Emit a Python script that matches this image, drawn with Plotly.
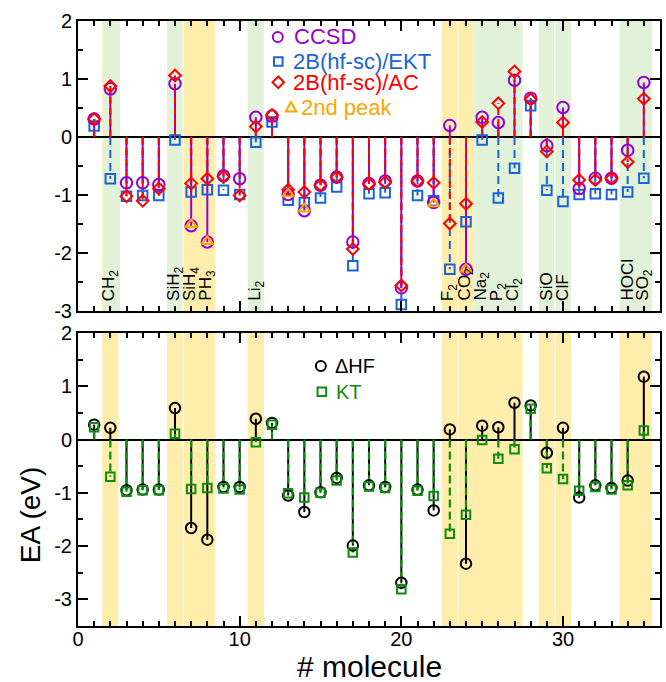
import plotly.graph_objects as go

# ---------------- data ----------------
molecules = list(range(1, 36))
ccsd = [0.31, 0.83, -0.79, -0.79, -0.82, 0.92, -1.53, -1.81, -0.67, -0.72,
        0.34, 0.36, -0.99, -1.27, -0.83, -0.69, -1.81, -0.80, -0.76, -2.60,
        -0.76, -1.13, 0.20, -2.28, 0.34, 0.25, 0.98, 0.67, -0.15, 0.51,
        -0.89, -0.71, -0.71, -0.23, 0.94]
ekt = [0.19, -0.72, -1.02, -1.01, -1.01, -0.05, -0.95, -0.91, -0.92, -0.99,
       -0.09, 0.26, -1.09, -1.13, -1.05, -0.86, -2.22, -0.98, -0.96, -2.89,
       -1.01, -1.10, -2.28, -1.46, -0.05, -1.05, -0.54, 0.54, -0.92, -1.11,
       -0.99, -0.98, -0.99, -0.95, -0.71]
ac = [0.31, 0.88, -1.02, -1.10, -0.89, 1.06, -0.80, -0.72, -0.68, -1.01,
      0.18, 0.38, -0.91, -0.95, -0.83, -0.69, -1.93, -0.81, -0.78, -2.56,
      -0.76, -0.79, -1.49, -1.15, 0.26, 0.58, 1.13, 0.65, -0.25, 0.25,
      -0.74, -0.74, -0.71, -0.43, 0.66]
peak2_mol = [7, 8, 13, 14, 22, 24]
peak2 = [-1.51, -1.80, -0.98, -1.24, -1.15, -2.28]
dhf = [0.28, 0.22, -0.95, -0.94, -0.94, 0.59, -1.66, -1.88, -0.89, -0.89,
       0.39, 0.31, -1.05, -1.36, -0.99, -0.72, -1.99, -0.86, -0.89, -2.69,
       -0.94, -1.33, 0.19, -2.33, 0.26, 0.23, 0.69, 0.64, -0.25, 0.22,
       -1.09, -0.86, -0.91, -0.77, 1.18]
kt = [0.23, -0.70, -0.98, -0.95, -0.95, 0.11, -0.93, -0.91, -0.92, -0.94,
      -0.05, 0.28, -1.01, -1.09, -1.00, -0.77, -2.12, -0.88, -0.91, -2.81,
      -0.96, -1.06, -1.77, -1.41, -0.01, -0.36, -0.18, 0.58, -0.54, -0.74,
      -0.96, -0.89, -0.94, -0.86, 0.17]
label_mol = [2, 6, 7, 8, 11, 23, 24, 25, 26, 27, 29, 30, 34, 35]
label_text = ["CH<sub>2</sub>", "SiH<sub>2</sub>", "SiH<sub>4</sub>", "PH<sub>3</sub>",
              "Li<sub>2</sub>", "F<sub>2</sub>", "CO<sub>2</sub>", "Na<sub>2</sub>",
              "P<sub>2</sub>", "Cl<sub>2</sub>", "SiO", "ClF", "HOCl", "SO<sub>2</sub>"]
y_ticks = [-3, -2, -1, 0, 1, 2]
y_ticktext = ["-3", "-2", "-1", "0", "1", "2"]
x_ticks = [0, 10, 20, 30]

# ---------------- style ----------------
VIOLET = "#9400d3"
BLUE = "#1a64d8"
RED = "#ff0000"
ORANGE = "#ffa500"
GREEN = "#0f8b0f"
BAND_Y = "#ffedab"
BAND_G = "#e2f2d8"
FONT = "Liberation Sans, Arial, sans-serif"

W, H = 666, 682
ML, MR, MT, MB = 78, 4, 21, 56
PW, PH = W - ML - MR, H - MT - MB


def px(xp):
    return (xp - ML) / PW


def py(yp):
    return (H - MB - yp) / PH


def stems(xs, ys):
    sx, sy = [], []
    for a, b in zip(xs, ys):
        sx += [a, a, None]
        sy += [0, b, None]
    return sx, sy


fig = go.Figure()

# ---- top panel stems ----
for vals, col, dash, lw in [(ekt, BLUE, "8px,5px", 2),
                            (ccsd, VIOLET, "solid", 2),
                            (ac, RED, "7px,4px", 2)]:
    sx, sy = stems(molecules, vals)
    fig.add_trace(go.Scatter(x=sx, y=sy, mode="lines", xaxis="x", yaxis="y",
                             line=dict(color=col, width=lw, dash=dash),
                             hoverinfo="skip", showlegend=False))

fig.add_trace(go.Scatter(x=molecules, y=ekt, mode="markers", xaxis="x", yaxis="y",
                         marker=dict(symbol="square-open", size=9.5, color=BLUE,
                                     line=dict(width=2, color=BLUE)),
                         name="2B(hf-sc)/EKT", showlegend=False))
fig.add_trace(go.Scatter(x=molecules, y=ccsd, mode="markers", xaxis="x", yaxis="y",
                         marker=dict(symbol="circle-open", size=11.5, color=VIOLET,
                                     line=dict(width=2, color=VIOLET)),
                         name="CCSD", showlegend=False))
fig.add_trace(go.Scatter(x=molecules, y=ac, mode="markers", xaxis="x", yaxis="y",
                         marker=dict(symbol="diamond-open", size=9, color=RED,
                                     line=dict(width=2, color=RED)),
                         name="2B(hf-sc)/AC", showlegend=False))
fig.add_trace(go.Scatter(x=peak2_mol, y=peak2, mode="markers", xaxis="x", yaxis="y",
                         marker=dict(symbol="triangle-up-open", size=10, color=ORANGE,
                                     line=dict(width=2, color=ORANGE)),
                         name="2nd peak", showlegend=False))

# ---- bottom panel ----
sx, sy = stems(molecules, dhf)
fig.add_trace(go.Scatter(x=sx, y=sy, mode="lines", xaxis="x2", yaxis="y2",
                         line=dict(color="black", width=2),
                         hoverinfo="skip", showlegend=False))
sx, sy = stems(molecules, kt)
fig.add_trace(go.Scatter(x=sx, y=sy, mode="lines", xaxis="x2", yaxis="y2",
                         line=dict(color=GREEN, width=2.2, dash="8px,4px"),
                         hoverinfo="skip", showlegend=False))
fig.add_trace(go.Scatter(x=molecules, y=dhf, mode="markers", xaxis="x2", yaxis="y2",
                         marker=dict(symbol="circle-open", size=10.5, color="black",
                                     line=dict(width=2, color="black")),
                         name="ΔHF", showlegend=False))
fig.add_trace(go.Scatter(x=molecules, y=kt, mode="markers", xaxis="x2", yaxis="y2",
                         marker=dict(symbol="square-open", size=8.5, color=GREEN,
                                     line=dict(width=2, color=GREEN)),
                         name="KT", showlegend=False))

# ---- shaded bands ----
shapes = []
top_bands = [(1.5, 2.5, BAND_Y), (1.6, 2.6, BAND_G), (5.5, 6.47, BAND_G),
             (6.53, 8.5, BAND_Y), (10.5, 11.5, BAND_G), (22.5, 23.47, BAND_Y),
             (23.53, 24.5, BAND_Y), (24.5, 27.5, BAND_G), (28.5, 29.47, BAND_G),
             (29.53, 30.5, BAND_G), (33.5, 35.5, BAND_G)]
bot_bands = [(1.5, 2.5, BAND_Y), (5.5, 6.47, BAND_Y), (6.53, 8.5, BAND_Y),
             (10.5, 11.5, BAND_Y), (22.5, 23.47, BAND_Y), (23.53, 27.5, BAND_Y),
             (28.5, 29.47, BAND_Y), (29.53, 30.5, BAND_Y), (33.5, 35.5, BAND_Y)]
for x0, x1, c in top_bands:
    shapes.append(dict(type="rect", xref="x", yref="y domain", x0=x0, x1=x1, y0=0, y1=1,
                       fillcolor=c, line=dict(width=0), layer="below"))
for x0, x1, c in bot_bands:
    shapes.append(dict(type="rect", xref="x2", yref="y2 domain", x0=x0, x1=x1, y0=0, y1=1,
                       fillcolor=c, line=dict(width=0), layer="below"))

# ---- hand-made legends (shapes + coloured text) ----
def circ(cx, cy, r, col):
    return dict(type="circle", xref="paper", yref="paper",
                x0=px(cx - r), x1=px(cx + r), y0=py(cy + r), y1=py(cy - r),
                line=dict(color=col, width=2))


def rect(cx, cy, h, col):
    return dict(type="rect", xref="paper", yref="paper",
                x0=px(cx - h), x1=px(cx + h), y0=py(cy + h), y1=py(cy - h),
                line=dict(color=col, width=2))


def poly(pts, col):
    p = "M " + " L ".join(f"{px(a):.5f},{py(b):.5f}" for a, b in pts) + " Z"
    return dict(type="path", xref="paper", yref="paper", path=p,
                line=dict(color=col, width=2))


shapes.append(circ(278.5, 37, 5, VIOLET))
shapes.append(rect(279, 61.5, 4.3, BLUE))
shapes.append(poly([(279, 76.5), (284.8, 82.3), (279, 88.1), (273.2, 82.3)], RED))
shapes.append(poly([(286.5, 111.5), (297, 111.5), (291.7, 102)], ORANGE))
shapes.append(circ(321.7, 366, 5, "black"))
shapes.append(rect(322.7, 391.7, 4.3, GREEN))

annotations = []
for txt, xl, yc, col, fs in [("CCSD", 293, 37, VIOLET, 22),
                             ("2B(hf-sc)/EKT", 292, 61.5, BLUE, 22),
                             ("2B(hf-sc)/AC", 292, 82.5, RED, 22),
                             ("2nd peak", 300, 107, ORANGE, 22),
                             ("ΔHF", 334, 366, "black", 20),
                             ("KT", 335, 391.7, GREEN, 20)]:
    annotations.append(dict(text=txt, xref="paper", yref="paper", x=px(xl), y=py(yc),
                            xanchor="left", yanchor="middle", showarrow=False,
                            font=dict(family=FONT, size=fs, color=col)))

for m, t in zip(label_mol, label_text):
    annotations.append(dict(text=t, xref="x", yref="y", x=m, y=-2.86, textangle=-90,
                            xanchor="center", yanchor="bottom", showarrow=False,
                            font=dict(family=FONT, size=17, color="black")))

annotations.append(dict(text="# molecule", xref="paper", yref="paper",
                        x=0.5, y=py(666), xanchor="center", yanchor="middle",
                        showarrow=False, font=dict(family=FONT, size=30, color="black")))
annotations.append(dict(text="EA (eV)", xref="paper", yref="paper",
                        x=px(30), y=py(515), xanchor="center", yanchor="middle",
                        textangle=-90, showarrow=False,
                        font=dict(family=FONT, size=28, color="black")))

axis_common = dict(showline=True, linewidth=2, linecolor="black", mirror="allticks",
                   ticks="inside", ticklen=10, tickwidth=2, tickcolor="black",
                   showgrid=False, tickfont=dict(family=FONT, size=20, color="black"))

fig.update_layout(
    width=W, height=H, margin=dict(l=ML, r=MR, t=MT, b=MB),
    paper_bgcolor="white", plot_bgcolor="white", showlegend=False,
    xaxis=dict(domain=[0, 1], anchor="y", range=[0, 36], tickvals=x_ticks,
               showticklabels=False, zeroline=False,
               minor=dict(ticks="inside", ticklen=5, tickwidth=2, dtick=1, tick0=0,
                          tickcolor="black"),
               **axis_common),
    yaxis=dict(domain=[py(311), 1], anchor="x", range=[-3, 2], tickvals=y_ticks,
               ticktext=y_ticktext, zeroline=True, zerolinecolor="black", zerolinewidth=2,
               minor=dict(ticks="inside", ticklen=5, tickwidth=2, dtick=0.5, tick0=0,
                          tickcolor="black"),
               **axis_common),
    xaxis2=dict(domain=[0, 1], anchor="y2", range=[0, 36], tickvals=x_ticks,
                zeroline=False, ticklabelstandoff=-6,
                minor=dict(ticks="inside", ticklen=5, tickwidth=2, dtick=1, tick0=0,
                           tickcolor="black"),
                **axis_common),
    yaxis2=dict(domain=[0, py(333)], anchor="x2", range=[-3.5, 2], tickvals=y_ticks,
                ticktext=y_ticktext, zeroline=True, zerolinecolor="black", zerolinewidth=1.5,
                minor=dict(ticks="inside", ticklen=5, tickwidth=2, dtick=0.5, tick0=0,
                           tickcolor="black"),
                **axis_common),
    shapes=shapes,
    annotations=annotations,
)

fig.write_html("out.html")
